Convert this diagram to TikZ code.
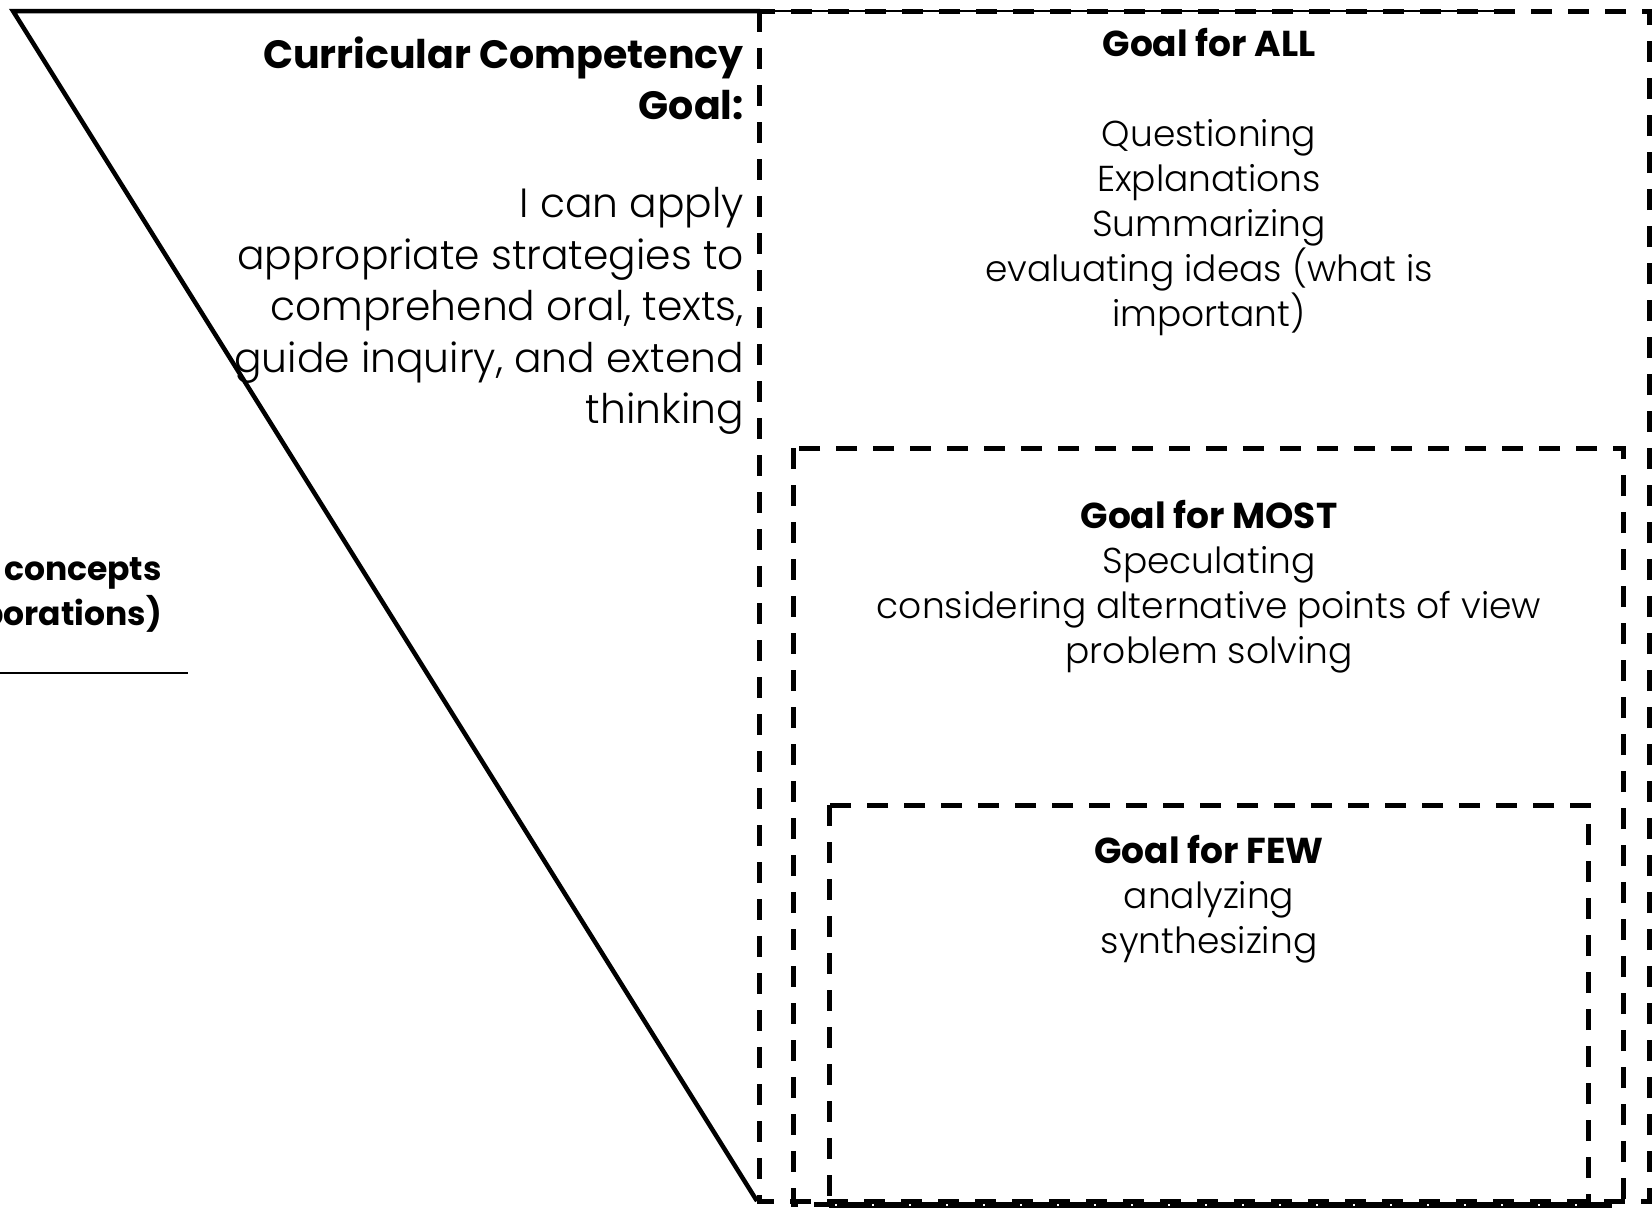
\documentclass[tikz,border=0pt]{standalone}
\usepackage{fontspec}
\setmainfont{Poppins Light}[BoldFont={Poppins Bold}]
\begin{document}
\begin{tikzpicture}[x=1pt,y=-1pt,
  solidline/.style={line width=4.5pt,line join=miter},
  thinline/.style={line width=1.6pt},
  dashbox/.style={line width=5pt,dash pattern=on 21pt off 16pt},
  lefttext/.style={inner sep=0pt,align=right,font=\fontsize{40.8}{51.5}\selectfont},
  lefttitle/.style={inner sep=0pt,align=right,font=\fontsize{39.5}{51}\selectfont\bfseries},
  goaltext/.style={inner sep=0pt,align=center,font=\fontsize{36}{45}\selectfont},
  cuttext/.style={inner sep=0pt,align=right,font=\fontsize{33}{45}\selectfont\bfseries}]
\useasboundingbox (0,0) rectangle (1652,1211);
% triangle
\coordinate (tl) at (13,11);
\coordinate (tm) at (760,11);
\coordinate (tr) at (1496,11);
\coordinate (bv) at (757,1201);
\draw[solidline] (tm) -- (tl) -- (bv);
\draw[thinline] (tm) -- (tr);
% bottom thin line
\coordinate (bl1) at (829,1207);
\coordinate (bl2) at (1612,1207);
\draw[thinline] (bl1) -- (bl2);
% dashed boxes
\coordinate (allA) at (759,11);
\coordinate (allB) at (1649,1201);
\coordinate (mostA) at (793,448);
\coordinate (mostB) at (1623,1204);
\coordinate (fewA) at (829,805);
\coordinate (fewB) at (1588,1204);
\draw[dashbox] (allA) rectangle (allB);
\draw[dashbox] (mostA) rectangle (mostB);
\draw[dashbox] (fewA) rectangle (fewB);
% left texts
\node[lefttitle,anchor=east] (cctitle) at (744,78) {Curricular Competency\\Goal:};
\node[lefttext,anchor=east] (ccbody) at (744,311) {I can apply\\appropriate strategies to\\comprehend oral, texts,\\guide inquiry, and extend\\thinking};
% cut-off text at the left margin
\node[cuttext,anchor=east] (cut) at (162,595) {concepts\\borations)};
\coordinate (ul1) at (0,673);
\coordinate (ul2) at (188,673);
\draw[line width=1.6pt] (ul1) -- (ul2);
% goal texts
\node[goaltext] (all) at (1209,182) {\textbf{Goal for ALL}\\[45pt]Questioning\\Explanations\\Summarizing\\evaluating ideas (what is\\important)};
\node[goaltext] (most) at (1209,587) {\textbf{Goal for MOST}\\Speculating\\considering alternative points of view\\problem solving};
\node[goaltext] (few) at (1209,899) {\textbf{Goal for FEW}\\analyzing\\synthesizing};
\end{tikzpicture}
\end{document}
